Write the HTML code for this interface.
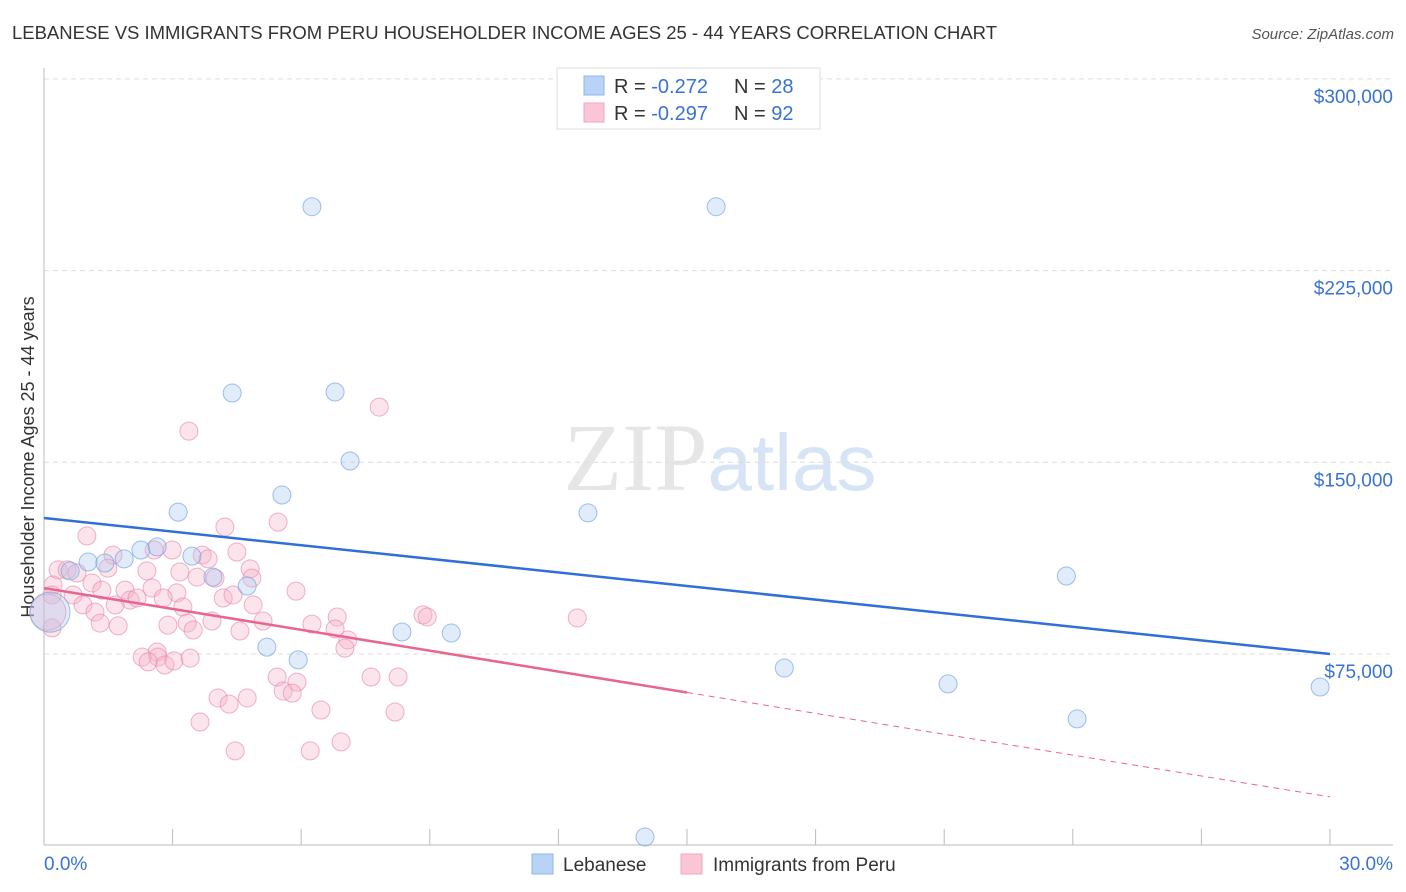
<!DOCTYPE html>
<html><head><meta charset="utf-8"><style>
body{margin:0;background:#fff;font-family:"Liberation Sans",sans-serif}
svg{display:block}
</style></head><body>
<svg id="chart" width="1406" height="892" viewBox="0 0 1406 892">
<text x="12" y="39" font-size="18.5" fill="#333" textLength="985" lengthAdjust="spacing">LEBANESE VS IMMIGRANTS FROM PERU HOUSEHOLDER INCOME AGES 25 - 44 YEARS CORRELATION CHART</text>
<text x="1394" y="39" font-size="15" fill="#555" font-style="italic" text-anchor="end">Source: ZipAtlas.com</text>
<text x="720" y="490" font-size="96" text-anchor="middle" fill="#e6e6e6"><tspan font-family="Liberation Serif">ZIP</tspan><tspan fill="#d6e4f5" font-size="80">atlas</tspan></text>
<text transform="translate(34,457) rotate(-90)" font-size="18" fill="#333" text-anchor="middle">Householder Income Ages 25 - 44 years</text>
<g id="grid"></g><g id="marks"></g>
<g>
<rect x="557" y="68" width="263" height="61" fill="#fff" stroke="#ddd"/>
<rect x="584" y="76" width="20" height="19" fill="#b8d3f5" stroke="#8fb5e8"/>
<rect x="584" y="103" width="20" height="19" fill="#fac6d6" stroke="#f2a5bd"/>
<text x="614" y="93" font-size="20" fill="#333">R = <tspan fill="#3a72d4">-0.272</tspan><tspan x="734">N = </tspan><tspan fill="#3a72d4">28</tspan></text>
<text x="614" y="120" font-size="20" fill="#333">R = <tspan fill="#3a72d4">-0.297</tspan><tspan x="734">N = </tspan><tspan fill="#3a72d4">92</tspan></text>
</g>
<g>
<rect x="532" y="854" width="21" height="20" fill="#b8d3f5" stroke="#8fb5e8"/>
<text x="563" y="871" font-size="19" fill="#333">Lebanese</text>
<rect x="681" y="854" width="21" height="20" fill="#fac6d6" stroke="#f2a5bd"/>
<text x="713" y="871" font-size="19" fill="#333">Immigrants from Peru</text>
</g>
</svg>
<script>
const yTicks=[75,150,225,300];
const xTickLabels=["0.0%","30.0%"];
const blueX=[6.25,15.68,4.39,6.79,7.14,3.13,5.55,12.69,1.03,1.87,2.26,2.64,3.45,3.94,4.74,1.42,0.61,23.85,8.35,9.50,5.2,5.93,17.27,21.09,24.1,29.77,14.02];
const blueY=[250,250,177.1,177.5,150.5,130.5,137.2,130.2,111,112.2,115.7,116.9,113.3,105.1,101.6,110.6,107.5,105.5,83.6,83.2,77.7,72.7,69.5,63.3,49.6,62.1,3.4];
const pinkX=[1.00,4.22,5.46,1.61,2.99,2.57,3.69,3.83,4.50,0.33,0.54,0.77,1.49,2.40,3.17,3.57,3.99,4.81,4.85,0.21,1.12,1.35,1.89,2.52,3.10,4.18,4.41,5.88,0.19,0.68,0.91,1.66,2.01,2.17,2.78,3.24,4.88,1.19,1.31,1.73,2.89,3.34,3.48,3.92,4.57,5.11,6.25,6.84,6.79,7.09,7.02,8.84,8.94,0.19,2.29,2.64,2.66,2.43,2.82,3.03,3.41,5.44,5.90,5.58,5.79,7.63,8.26,4.06,4.32,4.74,6.46,8.19,3.64,4.46,6.21,6.93,3.38,7.82,12.44];
const pinkY=[121.2,124.7,126.6,113.7,115.7,115.7,113.7,112.2,114.9,107.9,107.9,106.7,108.6,107.5,107.1,105.1,104.7,108.3,104.7,102,102.8,100,100,100.8,98.9,96.9,98.1,99.6,98.1,98.1,94.2,94.2,96.1,96.9,96.9,93.4,94.2,91.4,87.1,86,86.3,87.1,84.4,87.9,84,87.9,86.7,89.5,84.8,80.5,77.3,90.3,89.5,85.2,73.8,75.8,73.8,71.9,70.7,72.3,73.4,66,64,60.5,59.7,66,66,57.8,55.4,57.8,53.1,52.3,48.4,37.1,37.1,40.6,162.2,171.6,89.1];
const bigBlue=[0.14,91.4];
const bigPink=[0.09,91.4];
const blueTrend=[128.2,75.0];
const pinkTrend=[100.8,19.1];
const pinkSolidEnd=15;
const X=p=>44+p/30*1286;
const Y=v=>654-(v-75)*191.7/75;
const NS="http://www.w3.org/2000/svg";
const grid=document.getElementById('grid'),marks=document.getElementById('marks');
function mk(tag,attrs,parent){const e=document.createElementNS(NS,tag);for(const k in attrs)e.setAttribute(k,attrs[k]);parent.appendChild(e);return e;}
yTicks.forEach(t=>{
 const l=mk('line',{x1:44,x2:1393,y1:Y(t),y2:Y(t),stroke:'#ddd','stroke-dasharray':'5,4'},grid);
 
 
 const tx=mk('text',{x:1393,y:Y(t)+24,'font-size':19,fill:'#3a72d4','text-anchor':'end'},grid);
 tx.textContent='$'+(t*1000).toLocaleString('en-US');
 
 
});
const ax=mk('line',{x1:44,x2:44,y1:68,y2:845,stroke:'#bbb'},grid);


const bx=mk('line',{x1:44,x2:1393,y1:845,y2:845,stroke:'#bbb'},grid);


for(let i=0;i<=10;i++){const t=mk('line',{x1:X(i*3),x2:X(i*3),y1:829,y2:845,stroke:'#bbb'},grid);
 
 }
xTickLabels.forEach((s,i)=>{const t=mk('text',{x:i?1393:44,y:870,'font-size':19,fill:'#3a72d4','text-anchor':i?'end':'start'},grid);t.textContent=s;
 
 });
function dot(x,y,r,fill,stroke,name){const c=mk('circle',{cx:X(x),cy:Y(y),r:r,fill:fill,'fill-opacity':0.35,stroke:stroke,'stroke-opacity':0.65,'stroke-width':1},marks);
 
 }
pinkX.forEach((x,i)=>dot(x,pinkY[i],9,'#f7b3c8','#e889a8','peru-point'));
dot(bigPink[0],bigPink[1],18,'#f7b3c8','#e889a8','peru-point');
blueX.forEach((x,i)=>dot(x,blueY[i],9,'#a9c8f0','#6f9ee0','lebanese-point'));
dot(bigBlue[0],bigBlue[1],20,'#a9c8f0','#6f9ee0','lebanese-point');
const bl=mk('line',{x1:X(0),y1:Y(blueTrend[0]),x2:X(30),y2:Y(blueTrend[1]),stroke:'#2f6fd6','stroke-width':2.5},marks);


const pm=pinkTrend[0]+(pinkTrend[1]-pinkTrend[0])*pinkSolidEnd/30;
const pl=mk('line',{x1:X(0),y1:Y(pinkTrend[0]),x2:X(pinkSolidEnd),y2:Y(pm),stroke:'#e8658f','stroke-width':2.5},marks);


const pd=mk('line',{x1:X(pinkSolidEnd),y1:Y(pm),x2:X(30),y2:Y(pinkTrend[1]),stroke:'#e8658f','stroke-width':1,'stroke-dasharray':'6,5'},marks);


</script>
</body></html>
